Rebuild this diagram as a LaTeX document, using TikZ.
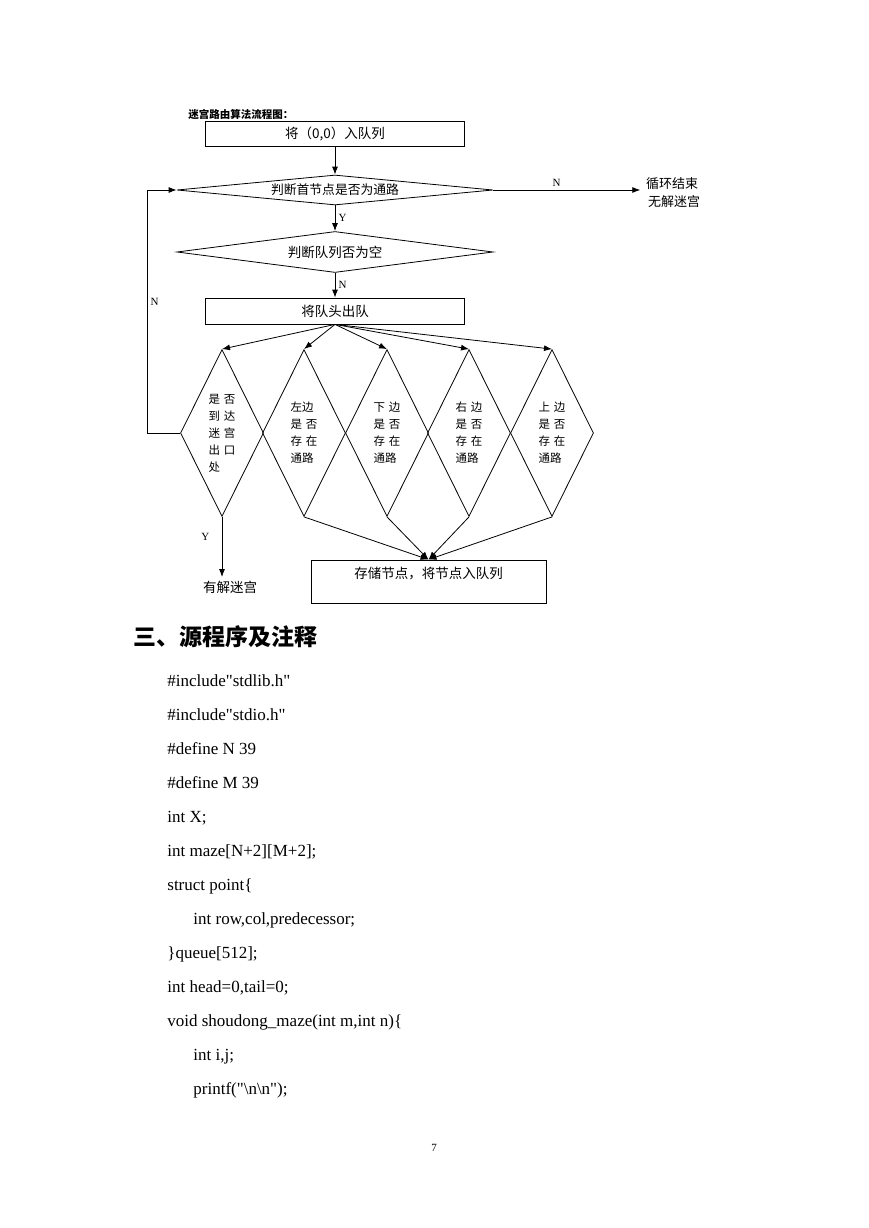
\documentclass[tikz,border=0pt]{standalone}
\usepackage{fontspec}
\setmainfont{Liberation Serif}[Ligatures=TeXOff]
\newfontfamily\cjk{Noto Sans CJK SC}
\usetikzlibrary{shapes.geometric,arrows.meta}

\begin{document}
\begin{tikzpicture}[
    x=1pt, y=-1pt,
    >={Latex[length=8pt,width=6pt]},
    line width=0.8pt,
    every node/.style={font=\cjk\fontsize{13.5}{15}\selectfont},
    box/.style={draw, rectangle, minimum width=259pt, minimum height=25pt, inner sep=0pt},
    flatdia/.style={draw, diamond, minimum width=316pt, minimum height=30pt, aspect=10, inner sep=0pt},
    talldia/.style={draw, diamond, minimum width=83pt, minimum height=167pt, aspect=0.5,
      inner sep=0pt, align=left, font=\cjk\fontsize{11.5}{17}\selectfont},
    lbl/.style={font=\fontsize{11}{13}\selectfont},
    code/.style={anchor=base west, inner sep=0pt, font=\fontsize{17}{20}\selectfont}
  ]
    \useasboundingbox (0,0) rectangle (869,1228);

    % flowchart
    \node[anchor=base west, inner sep=0pt, font=\cjk\bfseries\fontsize{10.5}{12}\selectfont] (title) at (188,119) {迷宫路由算法流程图：};
    \node[box] (start) at (335,134) {将（0,0）入队列};
    \node[flatdia, font=\cjk\fontsize{12.8}{15}\selectfont] (chk) at (335,190) {判断首节点是否为通路};
    \node[flatdia, minimum height=41pt] (empty) at (335,252) {判断队列否为空};
    \node[box, minimum height=26pt] (deq) at (335,311) {将队头出队};
    \node[align=center, font=\cjk\fontsize{13}{18}\selectfont] (fail) at (672,193) {循环结束\\\hspace{4pt}无解迷宫};

    \node[talldia] (d1) at (222,433) {是\hspace{4pt}否\\到\hspace{4pt}达\\迷\hspace{4pt}宫\\出\hspace{4pt}口\\处};
    \node[talldia] (d2) at (304,433) {左边\\是\hspace{4pt}否\\存\hspace{4pt}在\\通路};
    \node[talldia] (d3) at (387,433) {下\hspace{4pt}边\\是\hspace{4pt}否\\存\hspace{4pt}在\\通路};
    \node[talldia] (d4) at (469,433) {右\hspace{4pt}边\\是\hspace{4pt}否\\存\hspace{4pt}在\\通路};
    \node[talldia] (d5) at (552,433) {上\hspace{4pt}边\\是\hspace{4pt}否\\存\hspace{4pt}在\\通路};

    \node[draw, minimum width=235pt, minimum height=43pt, text height=18pt, text depth=25pt,
      inner sep=0pt] (store) at (428.5,581.5) {存储节点，将节点入队列};
    \node (succ) at (230,587) {有解迷宫};
    \coordinate (lp) at (147,433);

    \draw[->] (start) -- (chk);
    \draw[->] (chk) -- node[lbl, right] {Y} (empty);
    \draw[->] (empty) -- node[lbl, right] {N} (deq);
    \draw[->] (chk.east) -- node[lbl, above, pos=0.43] {N} (chk.east -| fail.west);
    \draw[->] (d1.west) -- (lp) |- node[lbl, right, pos=0.27] {N} (chk.west);
    \foreach \d in {d1,d2,d3,d4,d5}
      \draw[->] (deq.south) -- (\d.north);
    \foreach \d in {d2,d3,d4,d5}
      \draw[->] (\d.south) -- (store.north);
    \draw[->] (d1.south) -- node[lbl, left=9pt, pos=0.33] {Y} (d1.south |- succ.north);

    % text below
    \node[anchor=base west, inner sep=0pt, font=\cjk\bfseries\fontsize{23}{27}\selectfont] (head) at (133,645) {三、源程序及注释};
    \node[code] (c1) at (167,686) {\#include"stdlib.h"};
    \node[code] (c2) at (167,720) {\#include"stdio.h"};
    \node[code] (c3) at (167,754) {\#define N 39};
    \node[code] (c4) at (167,788) {\#define M 39};
    \node[code] (c5) at (167,822) {int X;};
    \node[code] (c6) at (167,856) {int maze[N+2][M+2];};
    \node[code] (c7) at (167,890) {struct point\{};
    \node[code] (c8) at (193,924) {int row,col,predecessor;};
    \node[code] (c9) at (167,958) {\}queue[512];};
    \node[code] (c10) at (167,992) {int head=0,tail=0;};
    \node[code] (c11) at (167,1026) {void shoudong\_maze(int m,int n)\{};
    \node[code] (c12) at (193,1060) {int i,j;};
    \node[code] (c13) at (193,1094) {printf("\textbackslash n\textbackslash n");};
    \node[anchor=base, inner sep=0pt, font=\fontsize{11}{13}\selectfont] (pg) at (434,1151) {7};
  \end{tikzpicture}
\end{document}
